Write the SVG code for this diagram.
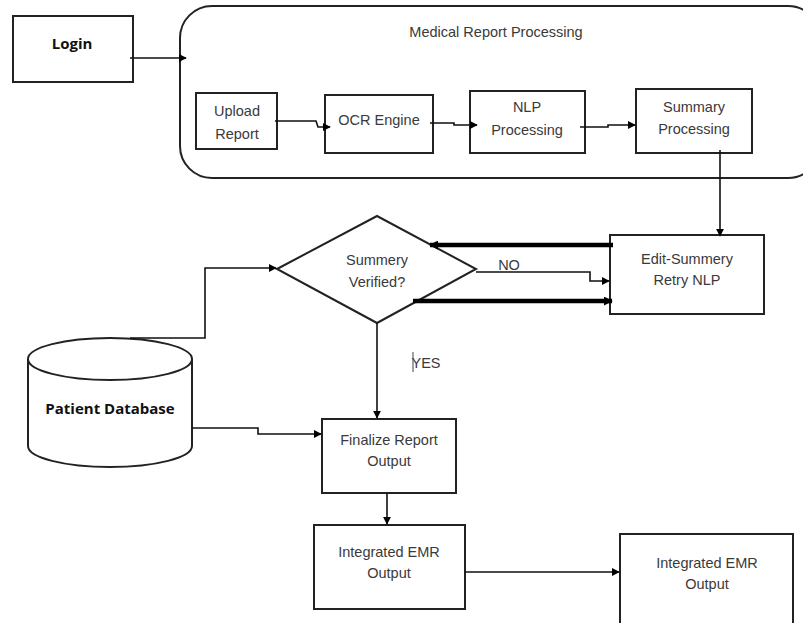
<svg xmlns="http://www.w3.org/2000/svg" width="803" height="623" viewBox="0 0 803 623">
<defs>
<marker id="ah" viewBox="0 0 10 10" refX="9" refY="5" markerWidth="8" markerHeight="8" markerUnits="userSpaceOnUse" orient="auto">
<path d="M0,0 L10,5 L0,10 z" fill="#000"/>
</marker>
<marker id="ahb" viewBox="0 0 10 10" refX="9" refY="5" markerWidth="9" markerHeight="9" markerUnits="userSpaceOnUse" orient="auto">
<path d="M0,0 L10,5 L0,10 z" fill="#000"/>
</marker>
<style>
.box{fill:#fff;stroke:#222;stroke-width:2}
.t{font-family:"Liberation Sans",Arial,sans-serif;font-size:14.5px;fill:#3a3a3a;text-anchor:middle}
.b{font-family:"Open Sans","Liberation Sans",Arial,sans-serif;font-size:15px;font-weight:bold;fill:#111;text-anchor:middle}
.c{fill:none;stroke:#111;stroke-width:1.6}
.ck{fill:none;stroke:#000;stroke-width:4.5}
</style>
</defs>
<rect width="803" height="623" fill="#fff"/>

<g id="processing-group">
<rect x="180" y="6" width="640" height="172" rx="32" ry="32" fill="none" stroke="#222" stroke-width="2"/>
<text class="t" x="496" y="37">Medical Report Processing</text>
</g>

<g id="login">
<rect class="box" x="13" y="16" width="120" height="66"/>
<text class="b" x="72" y="49">Login</text>
</g>

<g id="upload">
<rect class="box" x="196" y="93" width="81" height="56"/>
<text class="t" x="237" y="116">Upload</text>
<text class="t" x="237" y="139">Report</text>
</g>

<g id="ocr">
<rect class="box" x="325" y="95" width="108" height="58"/>
<text class="t" x="379" y="125">OCR Engine</text>
</g>

<g id="nlp">
<rect class="box" x="470" y="91" width="115" height="62"/>
<text class="t" x="527" y="112">NLP</text>
<text class="t" x="527" y="135">Processing</text>
</g>

<g id="summary">
<rect class="box" x="636" y="89" width="116" height="64"/>
<text class="t" x="694" y="112">Summary</text>
<text class="t" x="694" y="134">Processing</text>
</g>

<g id="decision">
<polygon points="277,269 377,216 476,269 377,323" fill="#fff" stroke="#222" stroke-width="2"/>
<text class="t" x="377" y="265">Summery</text>
<text class="t" x="377" y="287">Verified?</text>
</g>

<g id="edit">
<rect class="box" x="610" y="235" width="154" height="79"/>
<text class="t" x="687" y="264">Edit-Summery</text>
<text class="t" x="687" y="285">Retry NLP</text>
</g>

<g id="database">
<path d="M28,359 L28,446 A82,21 0 0 0 192,446 L192,359" fill="#fff" stroke="#222" stroke-width="2"/>
<ellipse cx="110" cy="359" rx="82" ry="21" fill="#fff" stroke="#222" stroke-width="2"/>
<text class="b" x="110" y="414">Patient Database</text>
</g>

<g id="finalize">
<rect class="box" x="322" y="419" width="134" height="74"/>
<text class="t" x="389" y="445">Finalize Report</text>
<text class="t" x="389" y="466">Output</text>
</g>

<g id="emr1">
<rect class="box" x="314" y="525" width="151" height="84"/>
<text class="t" x="389" y="557">Integrated EMR</text>
<text class="t" x="389" y="578">Output</text>
</g>

<g id="emr2">
<rect class="box" x="620" y="534" width="173" height="100"/>
<text class="t" x="707" y="568">Integrated EMR</text>
<text class="t" x="707" y="589">Output</text>
</g>

<g id="connectors">
<path class="c" d="M130,58 L186,58" marker-end="url(#ah)"/>
<path class="c" d="M275,121 L316,121 L318,127 L330,127" marker-end="url(#ah)"/>
<path class="c" d="M430,123 L454,123 L454,125 L477,125" marker-end="url(#ah)"/>
<path class="c" d="M580,127 L608,127 L608,125 L635,125" marker-end="url(#ah)"/>
<path class="c" d="M720,150 L720,236" marker-end="url(#ah)"/>
<path class="ck" d="M613,245 L430,245" marker-end="url(#ahb)"/>
<path class="c" d="M476,272 L590,272 L590,281 L609,281" marker-end="url(#ah)"/>
<path class="ck" d="M413,301 L612,301" marker-end="url(#ahb)"/>
<text class="t" x="509" y="270">NO</text>
<path class="c" d="M130,338 L205,338 L205,268 L276,268" marker-end="url(#ah)"/>
<path class="c" d="M377,323 L377,418" marker-end="url(#ah)"/>
<line x1="413" y1="352" x2="413" y2="372" stroke="#444" stroke-width="1"/>
<text class="t" x="426" y="368">YES</text>
<path class="c" d="M192,428 L258,428 L258,434 L321,434" marker-end="url(#ah)"/>
<path class="c" d="M387,493 L387,524" marker-end="url(#ah)"/>
<path class="c" d="M465,572 L619,572" marker-end="url(#ah)"/>
</g>
</svg>
